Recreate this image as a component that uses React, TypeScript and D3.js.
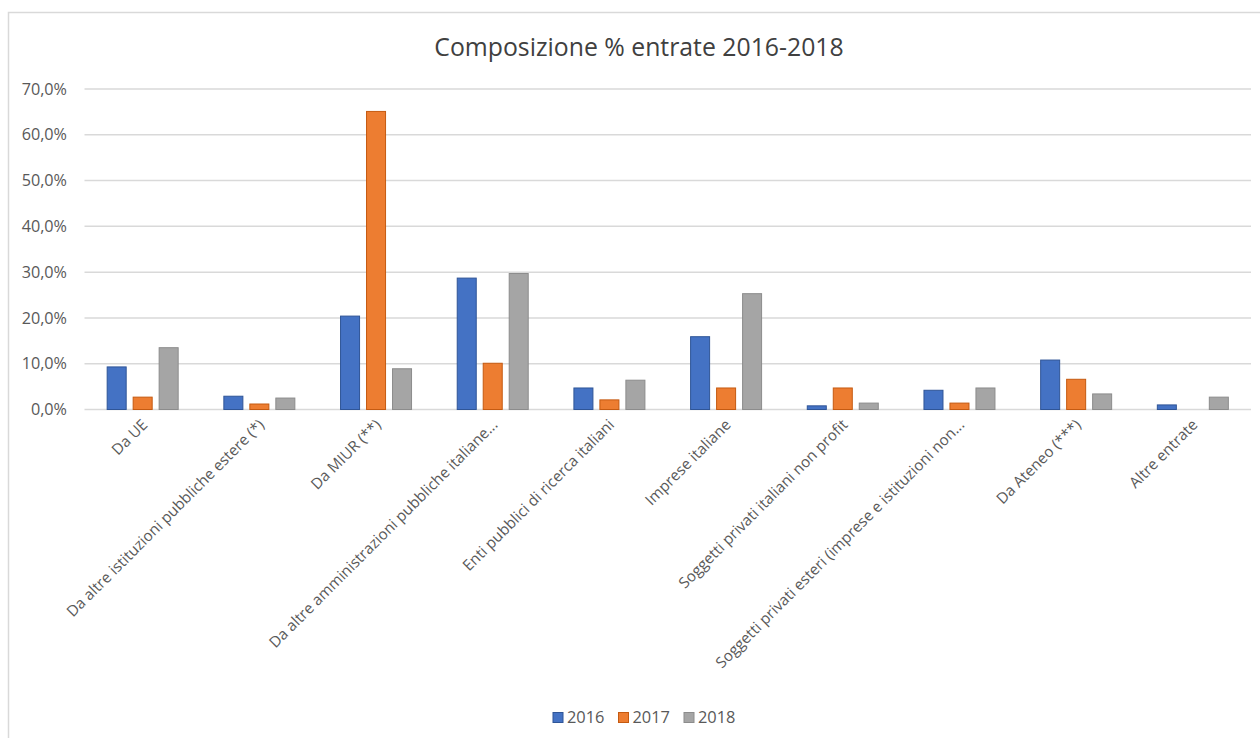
import React from "react";
import * as d3 from "d3";

const categories = [
  "Da UE",
  "Da altre istituzioni pubbliche estere (*)",
  "Da MIUR (**)",
  "Da altre amministrazioni pubbliche italiane...",
  "Enti pubblici di ricerca italiani",
  "Imprese italiane",
  "Soggetti privati italiani non profit",
  "Soggetti privati esteri (imprese e istituzioni non...",
  "Da Ateneo (***)",
  "Altre entrate",
];
const seriesNames = ["2016", "2017", "2018"];
const values2016 = [9.3, 2.9, 20.4, 28.7, 4.7, 15.9, 0.8, 4.2, 10.8, 1.0];
const values2017 = [2.7, 1.2, 65.1, 10.1, 2.1, 4.7, 4.7, 1.4, 6.6, 0.0];
const values2018 = [13.5, 2.5, 8.9, 29.7, 6.4, 25.3, 1.4, 4.7, 3.4, 2.7];
const yTicks = [0, 10, 20, 30, 40, 50, 60, 70];
const title = "Composizione % entrate 2016-2018";

const fills = ["#4472C4", "#ED7D31", "#A5A5A5"];
const strokes = ["#2F5597", "#C55A11", "#8C8C8C"];

export default function App() {
  const W = 1260;
  const H = 738;
  const left = 84.5;
  const right = 1251;
  const top = 89;
  const bottom = 409.5;
  const font = "'Open Sans', sans-serif";

  const x0 = d3
    .scaleBand<string>()
    .domain(categories)
    .range([left, right])
    .paddingInner(0.383)
    .paddingOuter(0.19);
  const x1 = d3
    .scaleBand<string>()
    .domain(seriesNames)
    .range([0, x0.bandwidth()])
    .paddingInner(0.23)
    .paddingOuter(0);
  const y = d3.scaleLinear().domain([0, 70]).range([bottom, top]);

  const series = [values2016, values2017, values2018];
  const fmt = (v: number) => v.toFixed(1).replace(".", ",") + "%";

  const legendX = d3.scalePoint<string>().domain(seriesNames).range([553, 684]);

  return (
    <svg
      width={W}
      height={H}
      style={{ position: "absolute", left: 0, top: 0, background: "#fff" }}
      fontFamily={font}
    >
      <rect x={0} y={0} width={W} height={H} fill="#fff" />
      <rect x={8.5} y={12.5} width={1300} height={800} fill="#fff" stroke="#D9D9D9" strokeWidth={1.5} />
      <text x={639} y={56} textAnchor="middle" fontSize={24.8} fill="#404040">
        {title}
      </text>
      {yTicks.map((t) => (
        <g key={t}>
          <line x1={left} x2={right} y1={y(t)} y2={y(t)} stroke="#D9D9D9" strokeWidth={1.5} />
          <text x={67} y={y(t)} dy="0.35em" textAnchor="end" fontSize={16.2} fill="#595959">
            {fmt(t)}
          </text>
        </g>
      ))}
      {categories.map((c, i) => (
        <g key={c} transform={`translate(${x0(c)},0)`}>
          {seriesNames.map((s, j) => {
            const v = series[j][i];
            if (v <= 0) return null;
            return (
              <rect
                key={s}
                x={(x1(s) as number) + 0.5}
                y={y(v)}
                width={x1.bandwidth() - 1}
                height={bottom - y(v)}
                fill={fills[j]}
                stroke={strokes[j]}
                strokeWidth={1}
              />
            );
          })}
        </g>
      ))}
      {categories.map((c) => {
        const cx = (x0(c) as number) + x0.bandwidth() / 2;
        return (
          <text
            key={c}
            transform={`translate(${cx + 2},${422}) rotate(-45)`}
            textAnchor="end"
            dy="0.35em"
            fontSize={15.2}
            fill="#595959"
          >
            {c}
          </text>
        );
      })}
      {seriesNames.map((s, j) => (
        <g key={s} transform={`translate(${legendX(s)},0)`}>
          <rect x={0} y={712.5} width={10} height={10} fill={fills[j]} stroke={strokes[j]} strokeWidth={1} />
          <text x={14} y={722.5} fontSize={16.4} fill="#595959">
            {s}
          </text>
        </g>
      ))}
    </svg>
  );
}
